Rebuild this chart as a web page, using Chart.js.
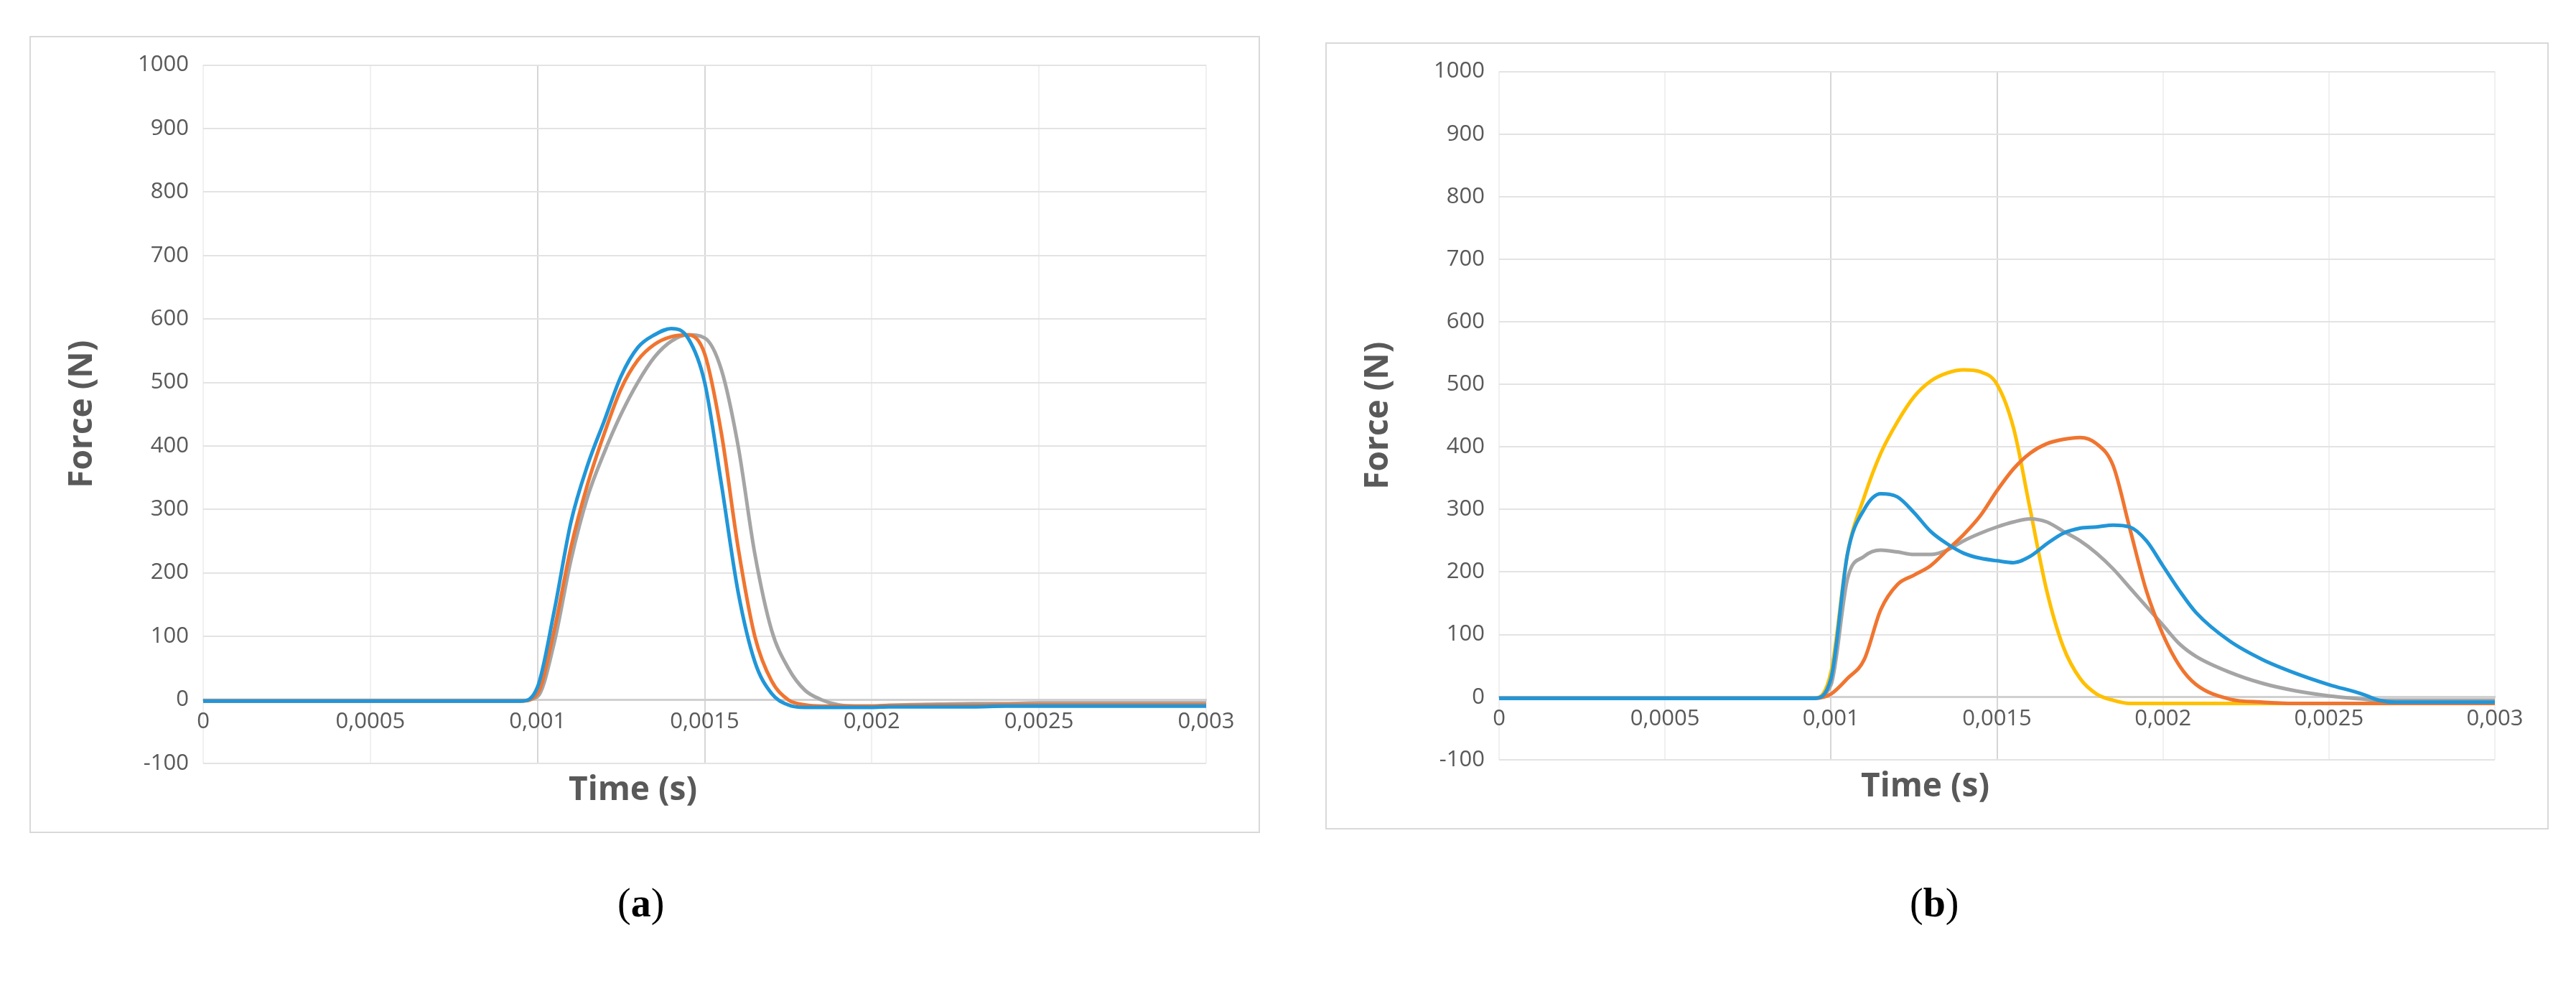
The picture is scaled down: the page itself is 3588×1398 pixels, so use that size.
<!DOCTYPE html>
<html>
<head>
<meta charset="utf-8">
<script src="https://cdn.jsdelivr.net/npm/chart.js@4"></script>
<style>
  body { margin: 0; background: #fff; width: 3588px; height: 1398px; position: relative; overflow: hidden; }
  .box { position: absolute; border: 2px solid #d9d9d9; background: #fff; }
  .cap { position: absolute; font-family: "Liberation Serif", serif; font-size: 56px; color: #000; }
</style>
</head>
<body>
<div class="box" style="left:41px;top:50px;width:1710px;height:1106px"><canvas id="ca"></canvas></div>
<div class="box" style="left:1846px;top:59px;width:1700px;height:1092px"><canvas id="cb"></canvas></div>
<div class="cap" style="left:860px;top:1225px">(<b>a</b>)</div>
<div class="cap" style="left:2660px;top:1225px">(<b>b</b>)</div>
<script>
// time samples (s), shared by all series
const times = [0, 0.0005, 0.00095, 0.001, 0.00105, 0.0011, 0.00115, 0.0012, 0.00125, 0.0013,
  0.00135, 0.0014, 0.00145, 0.0015, 0.00155, 0.0016, 0.00165, 0.0017, 0.00175, 0.0018,
  0.00185, 0.0019, 0.00195, 0.002, 0.00205, 0.0021, 0.0022, 0.0023, 0.0024, 0.0025,
  0.0026, 0.00265, 0.0027, 0.0028, 0.003];

// panel (a)
const aBlue = [-2, -2, -2, 20, 140, 280, 370, 440, 510, 555, 575, 585, 570, 500, 340, 170, 60, 10, -8, -12,
  -12, -12, -12, -12, -11, -11, -11, -11, -10, -10, -10, -10, -10, -10, -10];
const aOrange = [-2, -2, -2, 10, 110, 240, 340, 420, 490, 535, 560, 572, 575, 545, 420, 240, 100, 30, 0, -8,
  -10, -10, -10, -10, -9, -9, -9, -9, -8, -8, -8, -8, -8, -8, -8];
const aGray = [-1, -1, -1, 5, 90, 220, 320, 390, 450, 500, 540, 565, 575, 570, 520, 400, 230, 110, 50, 15,
  0, -8, -10, -10, -9, -8, -7, -6, -6, -5, -5, -5, -5, -5, -5];

// panel (b)
const bBlue = [-2, -2, -2, 30, 230, 300, 325, 320, 295, 265, 245, 230, 222, 218, 215, 225, 245, 262, 270, 272,
  275, 272, 250, 210, 170, 135, 90, 60, 38, 20, 5, -5, -8, -8, -8];
const bOrange = [-2, -2, -2, 5, 30, 60, 140, 180, 195, 210, 235, 260, 290, 330, 365, 390, 405, 412, 415, 405,
  370, 270, 170, 100, 50, 20, -3, -8, -10, -10, -10, -10, -10, -10, -10];
const bGray = [-1, -1, -1, 20, 190, 225, 235, 232, 228, 228, 235, 250, 262, 272, 280, 285, 280, 265, 250, 230,
  205, 175, 145, 115, 85, 65, 40, 22, 10, 2, -3, -5, -5, -5, -5];
const bYellow = [-2, -2, -2, 40, 230, 320, 390, 440, 480, 505, 518, 523, 520, 500, 430, 300, 170, 80, 30, 5,
  -5, -10, -10, -10, -10, -10, -10, -10, -10, -10, -10, -10, -10, -10, -10];

const xTicks = [0, 0.0005, 0.001, 0.0015, 0.002, 0.0025, 0.003];
const xTickLabels = ["0", "0,0005", "0,001", "0,0015", "0,002", "0,0025", "0,003"];

const tickFont = { family: "'Open Sans', sans-serif", size: 31 };
const titleFont = { family: "'Open Sans', sans-serif", size: 46, weight: "bold" };

function pts(vals) {
  return times.map((t, i) => ({ x: t, y: vals[i] }));
}

function ds(vals, color) {
  return { data: pts(vals), borderColor: color, borderWidth: 5, pointRadius: 0,
    cubicInterpolationMode: "monotone", fill: false };
}

function makeChart(id, datasets) {
  new Chart(document.getElementById(id), {
    type: "line",
    data: { datasets: datasets },
    options: {
      responsive: true,
      maintainAspectRatio: false,
      animation: false,
      layout: { padding: { top: 37, right: 73, left: 40, bottom: 20 } },
      plugins: {
        legend: { display: false },
        tooltip: { enabled: false },
        title: {
          display: true, position: "bottom", text: "Time (s)",
          color: "#595959", font: titleFont, padding: { top: 10, bottom: 10 }
        }
      },
      scales: {
        x: {
          type: "linear", min: 0, max: 0.003,
          position: { y: 0 },
          afterBuildTicks: (s) => { s.ticks = xTicks.map(v => ({ value: v })); },
          ticks: {
            color: "#595959", font: tickFont, maxRotation: 0, padding: 12,
            callback: (v) => xTickLabels[xTicks.indexOf(v)] ?? ""
          },
          grid: {
            color: (c) => (c.tick && (c.tick.value === 0.001 || c.tick.value === 0.0015)) ? "#d6d6d6" : "#f0f0f0",
            lineWidth: 2, drawTicks: false
          },
          border: { display: true, color: "#d0d0d0", width: 3 }
        },
        y: {
          min: -100, max: 1000,
          afterFit: (s) => { s.width = 200; },
          ticks: { stepSize: 100, color: "#595959", font: tickFont, padding: 20, callback: (v) => String(v) },
          title: { display: true, text: "Force (N)", color: "#595959", font: titleFont },
          grid: { color: "#e3e3e3", lineWidth: 2, drawTicks: false },
          border: { display: false }
        }
      }
    }
  });
}

makeChart("ca", [ds(aBlue, "#2196d8"), ds(aOrange, "#f07530"), ds(aGray, "#a5a5a5")]);
makeChart("cb", [ds(bBlue, "#2196d8"), ds(bOrange, "#f07530"), ds(bGray, "#a5a5a5"), ds(bYellow, "#ffc000")]);
</script>
</body>
</html>
